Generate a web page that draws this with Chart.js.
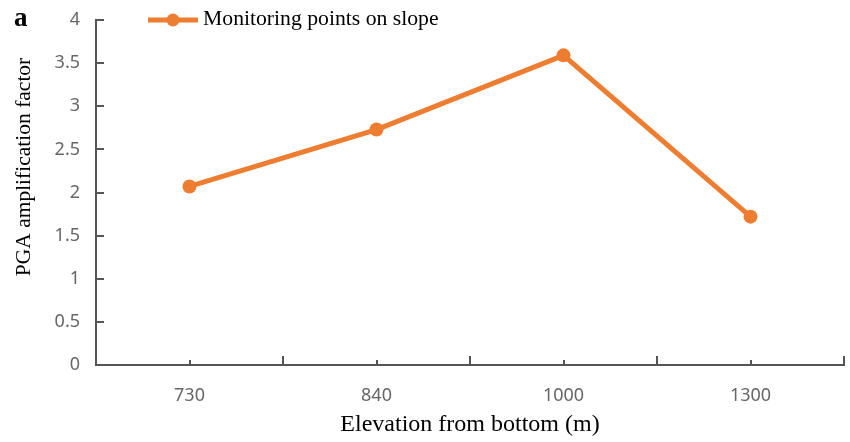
<!DOCTYPE html>
<html>
<head>
<meta charset="utf-8">
<script src="https://cdn.jsdelivr.net/npm/chart.js@4/dist/chart.umd.min.js"></script>
<style>
  html, body { margin: 0; padding: 0; background: #fff; }
  #wrap { width: 850px; height: 442px; position: relative; }
</style>
</head>
<body>
<div id="wrap"><canvas id="c" width="850" height="442"></canvas></div>
<script>
const categories = ['730', '840', '1000', '1300'];
const pgaFactor = [2.07, 2.73, 3.59, 1.72];
const seriesName = 'Monitoring points on slope';
const xTitle = 'Elevation from bottom (m)';
const yTitle = 'PGA amplification factor';
const panelLabel = 'a';
const yMin = 0, yMax = 4, yStep = 0.5;

const ORANGE = '#ED7D31';
const AXIS = '#555555';
const TICKTXT = '#666666';
const SERIF = '"Liberation Serif", "Times New Roman", serif';
const SANS = '"Noto Sans", "DejaVu Sans", sans-serif';

const decor = {
  id: 'decor',
  afterDraw(chart) {
    const ctx = chart.ctx;
    const xs = chart.scales.x, ys = chart.scales.y;
    const area = chart.chartArea;
    ctx.save();
    ctx.strokeStyle = AXIS;
    ctx.lineWidth = 2;
    for (let v = yMin + yStep; v <= yMax + 1e-9; v += yStep) {
      const p = Math.round(ys.getPixelForValue(v));
      ctx.beginPath();
      ctx.moveTo(area.left, p);
      ctx.lineTo(area.left + 8, p);
      ctx.stroke();
    }
    const w = xs.getPixelForValue(1) - xs.getPixelForValue(0);
    for (let i = 0; i < categories.length; i++) {
      const c = Math.round(xs.getPixelForValue(i));
      ctx.beginPath();
      ctx.moveTo(c, area.bottom);
      ctx.lineTo(c, area.bottom - 5);
      ctx.stroke();
      const b = Math.round(xs.getPixelForValue(i) + w / 2);
      ctx.beginPath();
      ctx.moveTo(b, area.bottom);
      ctx.lineTo(b, area.bottom - 9);
      ctx.stroke();
    }
    ctx.fillStyle = '#000';
    ctx.font = '24px ' + SERIF;
    ctx.textAlign = 'center';
    ctx.textBaseline = 'middle';
    ctx.fillText(xTitle, (area.left + area.right) / 2, 425);
    ctx.save();
    ctx.translate(24, 167);
    ctx.rotate(-Math.PI / 2);
    ctx.font = '21.5px ' + SERIF;
    ctx.fillText(yTitle, 0, 0);
    ctx.restore();
    ctx.font = 'bold 27px ' + SERIF;
    ctx.textAlign = 'left';
    ctx.fillText(panelLabel, 14, 19);
    const ds = chart.data.datasets[0];
    ctx.strokeStyle = ds.borderColor;
    ctx.lineWidth = 5;
    ctx.beginPath();
    ctx.moveTo(148, 20);
    ctx.lineTo(198, 20);
    ctx.stroke();
    ctx.fillStyle = ds.borderColor;
    ctx.beginPath();
    ctx.arc(173, 20, 6.5, 0, Math.PI * 2);
    ctx.fill();
    ctx.fillStyle = '#000';
    ctx.font = '21.7px ' + SERIF;
    ctx.textAlign = 'left';
    ctx.fillText(ds.label, 203, 19);
    ctx.restore();
  }
};

new Chart(document.getElementById('c'), {
  type: 'line',
  data: {
    labels: categories,
    datasets: [{
      label: seriesName,
      data: pgaFactor,
      borderColor: ORANGE,
      backgroundColor: ORANGE,
      borderWidth: 5,
      pointRadius: 7,
      pointHoverRadius: 7,
      pointBackgroundColor: ORANGE,
      pointBorderWidth: 0,
      tension: 0,
      clip: false
    }]
  },
  options: {
    responsive: false,
    animation: false,
    events: [],
    layout: { padding: { top: 20, right: 6, left: 0, bottom: 0 }, autoPadding: false },
    plugins: { legend: { display: false }, tooltip: { enabled: false }, title: { display: false } },
    scales: {
      x: {
        offset: true,
        grid: { display: false, drawTicks: false },
        border: { display: true, color: AXIS, width: 2 },
        ticks: { color: TICKTXT, font: { family: SANS, size: 18 }, padding: 20, maxRotation: 0 },
        afterFit(s) { s.height = 77; s.paddingLeft = 0; s.paddingRight = 0; }
      },
      y: {
        min: yMin, max: yMax,
        grid: { display: false, drawTicks: false },
        border: { display: true, color: AXIS, width: 2 },
        ticks: {
          stepSize: yStep, color: TICKTXT, font: { family: SANS, size: 18 }, padding: 16,
          callback: (v) => String(v)
        },
        afterFit(s) { s.width = 96; s.paddingTop = 0; s.paddingBottom = 0; }
      }
    }
  },
  plugins: [decor]
});
</script>
</body>
</html>
